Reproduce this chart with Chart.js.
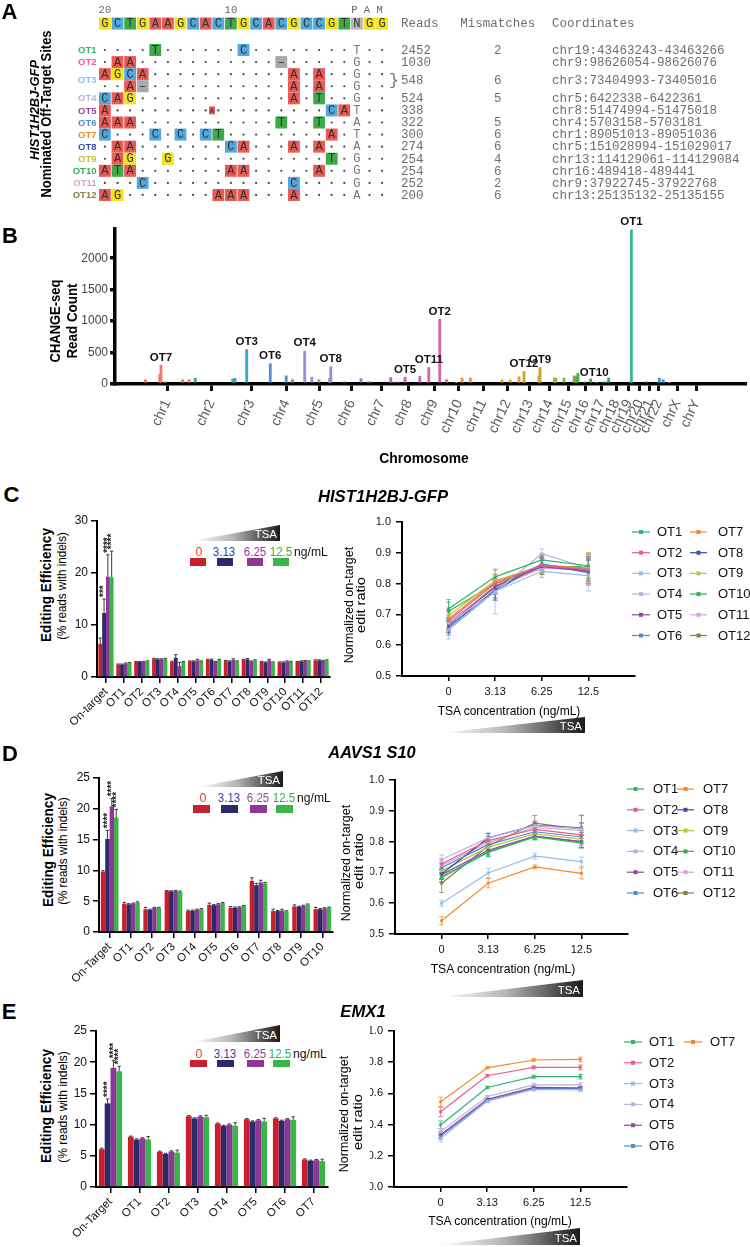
<!DOCTYPE html>
<html><head><meta charset="utf-8">
<script src="https://cdn.jsdelivr.net/npm/chart.js@4.4.1/dist/chart.umd.min.js"></script>
<style>
body{margin:0;background:#fff;}
#root{position:relative;width:750px;height:1247px;overflow:hidden;background:#fff;}
#root canvas{position:absolute;}
.t{position:absolute;white-space:nowrap;line-height:1;}
.box{position:absolute;}
</style></head><body><div id="root"></div>
<script>
// ================= DATA =================
// Panel A: alignment
const targetSeq = "GCTGAAGCACTGCACGCCGTNGG";
const seqMarks = ["20", "10", "P A M"];
const seqMarkPos = [0, 10, 20.8];
const alignRowLabels = ["OT1","OT2","OT3","OT3","OT4","OT5","OT6","OT7","OT8","OT9","OT10","OT11","OT12"];
const alignRowSeqs = [
  "....T......C........T..",
  ".AA...........-.....G..",
  "AGCA...........A.A..G..",
  "..A-...........A.A..G..",
  "CAG............A.T..G..",
  "A.................CAT..",
  "AAA...........T..T..A..",
  "C...C.C.CT........A.T..",
  ".AA.......CA...A.A..A..",
  ".AG..G............T.G..",
  "ATA.......AA.....A..G..",
  "...C...........C....G..",
  "AG.......AAA...A....A.."
];
const alignInsertRow = 5, alignInsertPos = 8.5, alignInsertBase = "A";
const otNames = ["OT1","OT2","OT3","OT4","OT5","OT6","OT7","OT8","OT9","OT10","OT11","OT12"];
const otReads = [2452,1030,548,524,338,322,300,274,254,254,252,200];
const otMismatches = ["2","","6","5","","5","6","6","4","6","2","6"];
const otCoords = ["chr19:43463243-43463266","chr9:98626054-98626076","chr3:73404993-73405016","chr5:6422338-6422361","chr8:51474994-51475018","chr4:5703158-5703181","chr1:89051013-89051036","chr5:151028994-151029017","chr13:114129061-114129084","chr16:489418-489441","chr9:37922745-37922768","chr13:25135132-25135155"];
const otColors = ["#2fb36b","#ee5b8a","#93bde8","#b9b1e0","#8c4a9e","#4f8dd0","#f28a2c","#3d4ea8","#bfc23a","#34b14f","#d8a2d6","#8d7b3c"];

// Panel B: CHANGE-seq
const chrNames = ["chr1","chr2","chr3","chr4","chr5","chr6","chr7","chr8","chr9","chr10","chr11","chr12","chr13","chr14","chr15","chr16","chr17","chr18","chr19","chr20","chr21","chr22","chrX","chrY"];
const chrLenMb = [248.956,242.193,198.295,190.214,181.538,170.805,159.345,145.138,138.394,133.797,135.086,133.275,114.364,107.043,101.991,90.338,83.257,80.373,58.617,64.444,46.709,50.818,156.040,57.227];
const chrColors = ["#f47a6a","#2ea89a","#3d9fdb","#5a8fd2","#9a8ed2","#a878c4","#b86cc0","#c765b3","#d966a0","#f28c3c","#f29a34","#e3a12e","#c9a82c","#a3ae3a","#72b443","#45b04a","#2fb35e","#2db47e","#34b893","#2eb3b8","#2fa8d6","#3a9fe2","#f38b86","#e77aa5"];
const siteChr  = [0,0,0,0,0,0,1,1,2,2,3,3,3,4,4,4,4,4,5,5,6,6,6,6,7,7,7,8,8,8,9,9,9,11,11,11,12,12,12,12,13,13,14,14,14,15,15,15,16,16,16,16,18,18,20,21,21,22];
const sitePos  = [3,82,89.05,112,209,245,30,238,8,73.4,5.7,94,129,6.42,46,86,145,151.03,44,137,6,18,131,151,15,51.47,133,37.92,98.63,136,52,84,130,36,82,131,25.14,30,108,114.13,80,87,26,82,93,0.49,38,71,15,50,63,81,39,43.46,4,29,50,32];
const siteReads= [68,150,300,36,68,68,92,78,92,548,322,130,68,524,110,68,90,274,36,85,36,36,105,32,32,108,120,262,1030,68,26,95,95,68,68,115,200,32,130,262,95,95,95,130,120,170,32,80,26,32,32,95,32,2452,36,95,69,26];
const labelSite = [2,9,10,13,17,25,27,28,36,39,45,53];
const labelText = ["OT7","OT3","OT6","OT4","OT8","OT5","OT11","OT2","OT12","OT9","OT10","OT1"];
const bYTicks = [0,500,1000,1500,2000];

// Bar panels
const concLabels = ["0","3.13","6.25","12.5"];
const concColors = ["#c8202f","#2b2a6b","#8e3797","#3ab54a"];
const concTextColors = ["#ee4430","#3a3aa2","#95439e","#2fb24a"];

const cCats = ["On-target","OT1","OT2","OT3","OT4","OT5","OT6","OT7","OT8","OT9","OT10","OT11","OT12"];
const cBar0 = [6.4,2.4,2.9,3.5,2.9,3.0,3.3,3.1,3.3,2.9,2.8,2.9,3.2];
const cBar1 = [12.3,2.4,2.9,3.4,3.7,3.0,3.3,3.0,3.4,2.8,2.8,3.0,3.2];
const cBar2 = [19.3,2.6,2.9,3.4,2.1,3.2,2.9,3.3,3.0,3.2,3.0,3.1,3.1];
const cBar3 = [19.2,2.7,3.0,3.5,2.9,3.0,3.3,3.0,3.2,2.8,2.9,3.0,3.2];
const cErr0 = [1.1,0.1,0.1,0.1,0.15,0.1,0.1,0.1,0.1,0.1,0.1,0.1,0.1];
const cErr1 = [2.7,0.1,0.1,0.1,0.6,0.1,0.15,0.1,0.15,0.1,0.1,0.1,0.1];
const cErr2 = [4.2,0.1,0.1,0.1,0.7,0.2,0.1,0.2,0.1,0.2,0.1,0.1,0.1];
const cErr3 = [5.0,0.1,0.1,0.1,0.1,0.1,0.1,0.1,0.1,0.1,0.1,0.1,0.1];
const cStars = ["", "***", "****", "****"];

const dCats = ["On-Target","OT1","OT2","OT3","OT4","OT5","OT6","OT7","OT8","OT9","OT10"];
const dBar0 = [9.8,4.6,3.7,6.65,3.4,4.4,3.95,8.3,3.4,4.15,3.7];
const dBar1 = [15.1,4.5,3.6,6.6,3.45,4.35,3.95,7.6,3.4,4.1,3.7];
const dBar2 = [20.4,4.6,3.9,6.65,3.6,4.5,4.0,8.05,3.5,4.25,3.85];
const dBar3 = [18.6,4.8,3.9,6.55,3.7,4.7,4.2,7.9,3.35,4.45,3.95];
const dErr0 = [0.15,0.2,0.3,0.1,0.15,0.3,0.2,0.5,0.3,0.25,0.3];
const dErr1 = [1.4,0.1,0.1,0.1,0.1,0.1,0.1,0.3,0.1,0.1,0.1];
const dErr2 = [1.3,0.1,0.1,0.1,0.1,0.1,0.1,0.35,0.2,0.1,0.1];
const dErr3 = [1.3,0.1,0.1,0.1,0.1,0.1,0.1,0.15,0.1,0.1,0.1];
const dStars = ["", "****", "****", "****"];

const eCats = ["On-Target","OT1","OT2","OT3","OT4","OT5","OT6","OT7"];
const eBar0 = [6.07,8.06,5.65,11.34,10.16,10.86,11.0,4.4];
const eBar1 = [13.4,7.6,5.3,11.0,9.8,10.5,10.6,4.2];
const eBar2 = [19.1,7.8,5.7,11.3,10.0,10.7,10.86,4.3];
const eBar3 = [18.55,7.6,5.5,11.2,9.8,10.5,10.75,4.15];
const eErr0 = [0.15,0.1,0.1,0.1,0.1,0.1,0.1,0.1];
const eErr1 = [0.7,0.1,0.1,0.1,0.1,0.1,0.1,0.1];
const eErr2 = [1.2,0.1,0.1,0.1,0.1,0.1,0.1,0.1];
const eErr3 = [0.8,0.5,0.4,0.3,0.5,0.5,0.5,0.3];
const eStars = ["", "****", "****", "****"];

// Line panels (normalized on-target edit ratio at 0, 3.13, 6.25, 12.5 ng/mL)
const cLine = [
  [0.718,0.822,0.877,0.858],[0.680,0.800,0.860,0.845],[0.650,0.775,0.840,0.826],[0.672,0.772,0.897,0.850],
  [0.666,0.790,0.855,0.840],[0.653,0.775,0.865,0.835],[0.686,0.806,0.860,0.850],[0.660,0.780,0.862,0.840],
  [0.696,0.810,0.856,0.850],[0.710,0.800,0.855,0.855],[0.676,0.786,0.850,0.845],[0.670,0.792,0.860,0.848]];
const cLineErr = [
  [0.03,0.025,0.02,0.04],[0.03,0.03,0.03,0.04],[0.03,0.02,0.02,0.05],[0.03,0.07,0.015,0.04],
  [0.02,0.025,0.02,0.04],[0.02,0.03,0.02,0.04],[0.03,0.025,0.03,0.05],[0.02,0.03,0.02,0.04],
  [0.02,0.02,0.02,0.05],[0.03,0.02,0.02,0.04],[0.02,0.02,0.03,0.05],[0.02,0.02,0.03,0.04]];
const dLine = [
  [0.685,0.765,0.815,0.795],[0.728,0.803,0.840,0.822],[0.600,0.698,0.753,0.735],[0.742,0.812,0.852,0.842],
  [0.692,0.772,0.818,0.800],[0.715,0.790,0.832,0.815],[0.543,0.665,0.718,0.697],[0.695,0.812,0.853,0.845],
  [0.705,0.782,0.825,0.808],[0.683,0.768,0.817,0.800],[0.722,0.796,0.846,0.836],[0.665,0.786,0.860,0.840]];
const dLineErr = [
  [0.015,0.015,0.01,0.015],[0.015,0.015,0.015,0.02],[0.01,0.015,0.01,0.015],[0.015,0.015,0.015,0.02],
  [0.015,0.015,0.01,0.02],[0.015,0.015,0.015,0.02],[0.013,0.015,0.006,0.018],[0.015,0.015,0.01,0.015],
  [0.015,0.015,0.015,0.02],[0.015,0.015,0.01,0.02],[0.015,0.015,0.02,0.05],[0.03,0.015,0.025,0.045]];
const eLine = [
  [0.398,0.638,0.707,0.707],[0.482,0.713,0.767,0.767],[0.310,0.550,0.625,0.622],[0.355,0.580,0.655,0.655],
  [0.335,0.562,0.638,0.635],[0.325,0.553,0.632,0.630],[0.546,0.764,0.814,0.818]];
const eLineErr = [
  [0.025,0.008,0.01,0.015],[0.03,0.008,0.01,0.015],[0.02,0.008,0.01,0.01],[0.02,0.008,0.01,0.015],
  [0.02,0.008,0.01,0.01],[0.02,0.008,0.01,0.01],[0.03,0.006,0.008,0.015]];
const cLineTicks = [0.5,0.6,0.7,0.8,0.9,1.0];
const eLineTicks = [0.0,0.2,0.4,0.6,0.8,1.0];

// ================= HELPERS =================
const FF = '"Liberation Sans", Arial, sans-serif';
const NARROW = '"Liberation Sans Narrow", "Liberation Sans", Arial, sans-serif';
const MONO = '"Liberation Mono", "DejaVu Sans Mono", monospace';
Chart.defaults.font.family = FF;
Chart.defaults.color = '#111';
const root = document.getElementById('root');

function addText(txt, cx, cy, o) {
  o = o || {};
  const d = document.createElement('div');
  d.className = 't';
  d.textContent = txt;
  d.style.font = o.font || ('12px ' + FF);
  d.style.color = o.color || '#000';
  d.style.left = cx + 'px'; d.style.top = cy + 'px';
  root.appendChild(d);
  let k = 1;
  if (o.w) k = o.w / d.offsetWidth;
  if (o.left) {
    d.style.transformOrigin = '0 50%';
    d.style.transform = 'translate(0,-50%) scale(' + k + ',1)';
  } else {
    d.style.transform = 'translate(-50%,-50%) rotate(' + (o.rot || 0) + 'deg) scale(' + k + ',1)';
  }
  return d;
}
function addBox(x, y, w, h, color) {
  const b = document.createElement('div');
  b.className = 'box';
  Object.assign(b.style, {left: x + 'px', top: y + 'px', width: w + 'px', height: h + 'px', background: color});
  root.appendChild(b);
}
function addTri(x0, y0, x1, y1) {
  const b = document.createElement('div');
  b.className = 'box';
  Object.assign(b.style, {left: x0 + 'px', top: y0 + 'px', width: (x1 - x0) + 'px', height: (y1 - y0) + 'px',
    background: 'linear-gradient(90deg, #ffffff 0%, #b8b8b8 45%, #1a1a1a 100%)',
    clipPath: 'polygon(0 100%, 100% 0, 100% 100%)'});
  root.appendChild(b);
  const t = document.createElement('div');
  t.className = 't'; t.textContent = 'TSA';
  Object.assign(t.style, {font: '11.5px ' + FF, color: '#fff', right: (750 - x1 + 3) + 'px', top: (y1 - 13) + 'px'});
  root.appendChild(t);
}
function concLegend(ly, centers, ngx, by, bh, bxs, bw) {
  concLabels.forEach((l, i) => addText(l, centers[i], ly, {font: '12.5px ' + FF, color: concTextColors[i], w: l.length > 1 ? 22 : 7}));
  addText('ng/mL', ngx, ly, {font: '12.5px ' + FF, color: '#111', left: true, w: 34});
  bxs.forEach((x, i) => addBox(x, by, bw, bh, concColors[i]));
}

function makeChart(r, area, cfg) {
  const c = document.createElement('canvas');
  c.width = r.w; c.height = r.h;
  c.style.left = r.x + 'px'; c.style.top = r.y + 'px';
  c.style.width = r.w + 'px'; c.style.height = r.h + 'px';
  root.appendChild(c);
  const o = cfg.options;
  o.responsive = false; o.animation = false; o.maintainAspectRatio = false;
  o.devicePixelRatio = 1;
  o.layout = {padding: {left: 0, top: area.y0 - r.y, right: r.x + r.w - area.x1, bottom: 0}};
  o.scales.x.afterFit = s => { s.height = r.y + r.h - area.y1; };
  o.scales.y.afterFit = s => { s.width = area.x0 - r.x; };
  o.plugins = Object.assign({legend: {display: false}, tooltip: {enabled: false}, title: {display: false}}, o.plugins || {});
  return new Chart(c, cfg);
}

// ============ plugins ============
const barErrPlugin = {
  id: 'barErr',
  afterDatasetsDraw(chart) {
    const ctx = chart.ctx, ys = chart.scales.y;
    chart.data.datasets.forEach((ds, i) => {
      const meta = chart.getDatasetMeta(i);
      meta.data.forEach((el, j) => {
        const yt = ys.getPixelForValue(ds.data[j] + ds.err[j]);
        ctx.save();
        ctx.strokeStyle = '#3a3a3a'; ctx.lineWidth = 1;
        ctx.beginPath();
        ctx.moveTo(el.x, el.y); ctx.lineTo(el.x, yt);
        ctx.moveTo(el.x - 1.7, yt); ctx.lineTo(el.x + 1.7, yt);
        ctx.stroke();
        if (ds.stars && j === 0 && ds.stars.length) {
          ctx.translate(el.x + 0.5, yt - 2);
          ctx.rotate(-Math.PI / 2);
          ctx.font = 'bold 10px ' + FF; ctx.fillStyle = '#222';
          ctx.textAlign = 'left'; ctx.textBaseline = 'middle';
          ctx.fillText(ds.stars, 0, 0);
        }
        ctx.restore();
      });
    });
  }
};
const lineErrPlugin = {
  id: 'lineErr',
  beforeDatasetsDraw(chart) {
    const ctx = chart.ctx, ys = chart.scales.y;
    chart.data.datasets.forEach((ds, i) => {
      const meta = chart.getDatasetMeta(i);
      ctx.save();
      ctx.strokeStyle = ds.borderColor; ctx.globalAlpha = 0.75; ctx.lineWidth = 1;
      meta.data.forEach((el, j) => {
        const v = ds.data[j].y, e = ds.err[j];
        const a = ys.getPixelForValue(v + e), b = ys.getPixelForValue(v - e);
        ctx.beginPath();
        ctx.moveTo(el.x, a); ctx.lineTo(el.x, b);
        ctx.moveTo(el.x - 2.5, a); ctx.lineTo(el.x + 2.5, a);
        ctx.moveTo(el.x - 2.5, b); ctx.lineTo(el.x + 2.5, b);
        ctx.stroke();
      });
      ctx.restore();
    });
  }
};
const otLegendPlugin = {
  id: 'otLegend',
  afterDraw(chart, args, opts) {
    if (!opts || !opts.cols) return;
    const ctx = chart.ctx;
    const ox = opts.ox, oy = opts.oy;
    ctx.save();
    ctx.font = '13px ' + FF; ctx.textBaseline = 'middle'; ctx.textAlign = 'left'; ctx.fillStyle = '#111';
    chart.data.datasets.forEach((ds, i) => {
      const col = Math.floor(i / 6), row = i % 6;
      const c = opts.cols[col];
      const y = opts.y0 + row * opts.dy - oy;
      const x0 = c[0] - ox, x1 = c[1] - ox;
      ctx.strokeStyle = ds.borderColor; ctx.lineWidth = 1.2;
      ctx.beginPath(); ctx.moveTo(x0, y); ctx.lineTo(x1, y); ctx.stroke();
      ctx.fillStyle = ds.borderColor;
      ctx.fillRect((x0 + x1) / 2 - 2, y - 2, 4, 4);
      ctx.fillStyle = '#111';
      ctx.fillText(ds.label, c[2] - ox, y + 0.5);
    });
    ctx.restore();
  }
};

// ============ PANEL A ============
(function () {
  const c = document.createElement('canvas');
  c.width = 750; c.height = 205;
  c.style.left = '0px'; c.style.top = '0px';
  root.appendChild(c);
  const baseColors = {A: '#ea5b55', C: '#52a8dd', G: '#f3e31c', T: '#3fa84a', N: '#b7b7b7', '-': '#a9a9a9'};
  const headRow = -2.19, numRow = -3.31;
  const alignPlugin = {
    id: 'align',
    afterDraw(chart) {
      const ctx = chart.ctx, xs = chart.scales.x, ys = chart.scales.y;
      const X = v => xs.getPixelForValue(v), Y = v => ys.getPixelForValue(v);
      const cw = X(1) - X(0), ch = 12;
      ctx.save();
      ctx.textAlign = 'center'; ctx.textBaseline = 'middle';
      ctx.font = '10.5px ' + MONO; ctx.fillStyle = '#666';
      seqMarks.forEach((m, i) => ctx.fillText(m, X(seqMarkPos[i]), Y(numRow)));
      function cell(b, i, r) {
        ctx.fillStyle = baseColors[b];
        ctx.fillRect(X(i) - cw / 2 + 0.4, Y(r) - ch / 2, cw - 0.8, ch);
        ctx.fillStyle = '#333'; ctx.font = '12px ' + MONO;
        ctx.fillText(b === '-' ? '\u2013' : b, X(i), Y(r) + 0.5);
      }
      for (let i = 0; i < targetSeq.length; i++) cell(targetSeq[i], i, headRow);
      alignRowSeqs.forEach((s, r) => {
        for (let i = 0; i < s.length; i++) {
          const b = s[i];
          if (b === '.') {
            ctx.fillStyle = '#444';
            ctx.beginPath(); ctx.arc(X(i), Y(r), 1.1, 0, Math.PI * 2); ctx.fill();
          } else if (i === 20) {
            ctx.fillStyle = '#777'; ctx.font = '12px ' + MONO;
            ctx.fillText(b, X(i), Y(r) + 0.5);
          } else cell(b, i, r);
        }
      });
      ctx.fillStyle = baseColors[alignInsertBase];
      ctx.fillRect(X(alignInsertPos) - 3, Y(alignInsertRow) - 4, 6, 8);
      ctx.fillStyle = '#333'; ctx.font = '7px ' + MONO;
      ctx.fillText(alignInsertBase, X(alignInsertPos), Y(alignInsertRow) + 0.5);
      const rowOf = name => {
        const idx = []; alignRowLabels.forEach((l, k) => { if (l === name) idx.push(k); });
        return idx.reduce((a, b) => a + b, 0) / idx.length;
      };
      ctx.font = '12.5px ' + MONO; ctx.fillStyle = '#6e6e6e';
      ctx.textAlign = 'left'; ctx.fillText('Reads', X(23.5), Y(headRow));
      ctx.textAlign = 'center'; ctx.fillText('Mismatches', X(31.17), Y(headRow));
      ctx.textAlign = 'left'; ctx.fillText('Coordinates', X(35.48), Y(headRow));
      otNames.forEach((n, k) => {
        const r = rowOf(n);
        ctx.font = 'bold 9.5px ' + NARROW; ctx.fillStyle = otColors[k]; ctx.textAlign = 'right';
        ctx.fillText(n, X(-0.667), Y(r) + 0.5);
        ctx.font = '12.5px ' + MONO; ctx.fillStyle = '#6e6e6e';
        ctx.textAlign = 'left'; ctx.fillText(String(otReads[k]), X(23.5), Y(r) + 0.5);
        ctx.textAlign = 'center'; ctx.fillText(otMismatches[k], X(31.17), Y(r) + 0.5);
        ctx.textAlign = 'left'; ctx.fillText(otCoords[k], X(35.48), Y(r) + 0.5);
      });
      ctx.font = '17px ' + MONO; ctx.fillStyle = '#777'; ctx.textAlign = 'center';
      ctx.fillText('}', X(22.93), Y(rowOf('OT3')) + 0.5);
      ctx.restore();
    }
  };
  new Chart(c, {
    type: 'scatter', data: {datasets: []},
    options: {responsive: false, animation: false, devicePixelRatio: 1,
      layout: {padding: 0},
      plugins: {legend: {display: false}, tooltip: {enabled: false}},
      scales: {x: {type: 'linear', display: false, min: -8.325, max: 51.198},
               y: {type: 'linear', display: false, min: -4.139, max: 12.83, reverse: true}}},
    plugins: [alignPlugin]
  });
})();
addText('A', 9.5, 12, {font: 'bold 22px ' + FF});
addText('HIST1H2BJ-GFP', 34, 110, {font: 'italic bold 13px ' + FF, rot: -90, w: 100});
addText('Nominated Off-Target Sites', 46, 114, {font: 'bold 14px ' + FF, rot: -90, w: 167});

// ============ PANEL B ============
(function () {
  const chrStart = [];
  let acc = 0;
  chrLenMb.forEach(l => { chrStart.push(acc); acc += l; });
  const chrMid = chrLenMb.map((l, i) => chrStart[i] + l / 2);
  const pts = siteChr.map((c, i) => ({x: chrStart[c] + sitePos[i], y: siteReads[i]}));
  const labPlugin = {
    id: 'bLab',
    afterDatasetsDraw(chart) {
      const ctx = chart.ctx, meta = chart.getDatasetMeta(0);
      ctx.save();
      ctx.font = 'bold 11.5px ' + NARROW; ctx.fillStyle = '#111'; ctx.textBaseline = 'bottom';
      labelSite.forEach((s, k) => {
        const el = meta.data[s];
        if (labelText[k] === 'OT10') { ctx.textAlign = 'left'; ctx.fillText(labelText[k], el.x + 2, el.y + 5); }
        else { ctx.textAlign = 'center'; ctx.fillText(labelText[k], el.x, el.y - 2); }
      });
      ctx.restore();
    }
  };
  makeChart({x: 0, y: 205, w: 750, h: 265}, {x0: 115, x1: 745, y0: 229, y1: 384}, {
    type: 'bar',
    data: {datasets: [{data: pts, backgroundColor: siteChr.map(c => chrColors[c]), barThickness: 2.2, borderWidth: 0}]},
    options: {
      scales: {
        x: {type: 'linear', min: -166, max: 3328, offset: false,
            afterBuildTicks: s => { s.ticks = chrMid.map(v => ({value: v})); },
            ticks: {autoSkip: false, minRotation: 65, maxRotation: 65, color: '#5a5a5a', font: {size: 14, family: FF}, padding: 6,
                    callback: (v, i) => chrNames[i]},
            grid: {display: true, drawOnChartArea: false, drawTicks: true, tickLength: 7, color: '#111', lineWidth: 3, offset: false},
            border: {display: true, color: '#000', width: 3.5}},
        y: {type: 'linear', min: 0, max: 2465,
            afterBuildTicks: s => { s.ticks = bYTicks.map(v => ({value: v})); },
            ticks: {color: '#444', font: {size: 12, family: FF}, padding: 2, callback: v => String(v)},
            grid: {display: true, drawOnChartArea: false, drawTicks: true, tickLength: 5, color: '#111', lineWidth: 3.5},
            border: {display: true, color: '#000', width: 3.5}}
      }
    },
    plugins: [labPlugin]
  });
})();
addText('B', 10, 236, {font: 'bold 22px ' + FF});
addText('CHANGE-seq', 54, 321, {font: 'bold 15px ' + FF, rot: -90, w: 83});
addText('Read Count', 71, 321, {font: 'bold 15px ' + FF, rot: -90, w: 75});
addText('Chromosome', 424, 458, {font: 'bold 14.5px ' + FF, w: 89});

// ============ BAR & LINE PANELS ============
function barChart(rect, area, cats, vals, errs, stars, yMax, yStep, catPct) {
  const datasets = vals.map((v, i) => ({data: v, err: errs[i], stars: stars[i], backgroundColor: concColors[i],
    borderWidth: 0, categoryPercentage: catPct, barPercentage: 1}));
  return makeChart(rect, area, {
    type: 'bar', data: {labels: cats, datasets},
    options: {
      scales: {
        x: {grid: {display: true, offset: false, drawOnChartArea: false, drawTicks: true, tickLength: 6, color: '#000', lineWidth: 1.5},
            border: {display: true, color: '#000', width: 2},
            ticks: {autoSkip: false, maxRotation: 45, minRotation: 45, color: '#111', font: {size: 11.5, family: FF}, padding: 2}},
        y: {min: 0, max: yMax, ticks: {stepSize: yStep, color: '#111', font: {size: 12, family: FF}, padding: 3},
            grid: {display: true, drawOnChartArea: false, drawTicks: true, tickLength: 6, color: '#000', lineWidth: 1.5},
            border: {display: true, color: '#000', width: 2}}
      }
    },
    plugins: [barErrPlugin]
  });
}
function lineChart(rect, area, series, errs, yMin, yMax, yTicks, legend) {
  const datasets = series.map((s, i) => ({label: otNames[i], data: s.map((v, j) => ({x: j, y: v})), err: errs[i],
    borderColor: otColors[i], backgroundColor: otColors[i], borderWidth: 1.2, pointStyle: 'rect', pointRadius: 2,
    pointBorderWidth: 0, tension: 0, fill: false}));
  legend.ox = rect.x; legend.oy = rect.y;
  return makeChart(rect, area, {
    type: 'line', data: {datasets},
    options: {
      plugins: {otLegend: legend},
      scales: {
        x: {type: 'linear', min: -1, max: 4,
            afterBuildTicks: s => { s.ticks = concLabels.map((l, j) => ({value: j})); },
            ticks: {callback: v => concLabels[v], color: '#111', font: {size: 11, family: FF}, padding: 4},
            grid: {display: true, drawOnChartArea: false, drawTicks: true, tickLength: 5, color: '#000', lineWidth: 1.5},
            border: {display: true, color: '#000', width: 2}},
        y: {type: 'linear', min: yMin, max: yMax,
            afterBuildTicks: s => { s.ticks = yTicks.map(v => ({value: v})); },
            ticks: {callback: v => v.toFixed(1), color: '#111', font: {size: 11, family: FF}, padding: 5},
            grid: {display: true, drawOnChartArea: false, drawTicks: true, tickLength: 6, color: '#000', lineWidth: 1.5},
            border: {display: true, color: '#000', width: 2}}
      }
    },
    plugins: [lineErrPlugin, otLegendPlugin]
  });
}

// ---- C ----
addText('C', 11.5, 495, {font: 'bold 22px ' + FF});
addText('HIST1H2BJ-GFP', 383, 497, {font: 'italic bold 17px ' + FF, w: 130});
addText('Editing Efficiency', 45, 585, {font: 'bold 15px ' + FF, rot: -90, w: 114});
addText('(% reads with indels)', 61, 586, {font: '13px ' + FF, rot: -90, w: 108});
addTri(192, 525, 280, 541);
concLegend(552, [199, 224, 255, 281], 294, 558, 8, [190, 217, 247, 273], 16);
barChart({x: 0, y: 505, w: 370, h: 245}, {x0: 97, x1: 330, y0: 521, y1: 677}, cCats,
  [cBar0, cBar1, cBar2, cBar3], [cErr0, cErr1, cErr2, cErr3], cStars, 30, 10, 0.85);
addText('Normalized on-target', 348, 605, {font: '13px ' + FF, rot: -90, w: 116});
addText('edit ratio', 360, 605, {font: '13px ' + FF, rot: -90, w: 56});
lineChart({x: 370, y: 505, w: 380, h: 200}, {x0: 402, x1: 635, y0: 522, y1: 676}, cLine, cLineErr, 0.5, 1.0, cLineTicks,
  {cols: [[632, 650, 657], [690, 707, 718]], y0: 532, dy: 20.7});
addText('TSA concentration (ng/mL)', 508.5, 710, {font: '13px ' + FF, w: 143});
addTri(440, 717, 585, 733);

// ---- D ----
addText('D', 10, 754, {font: 'bold 22px ' + FF});
addText('AAVS1 S10', 371.5, 753, {font: 'italic bold 17px ' + FF, w: 87});
addText('Editing Efficiency', 46.5, 850, {font: 'bold 15px ' + FF, rot: -90, w: 114});
addText('(% reads with indels)', 62, 851, {font: '13px ' + FF, rot: -90, w: 108});
addTri(197, 771, 283, 787);
concLegend(798, [203, 229, 258, 284], 297, 805, 8, [193, 221, 250, 276], 17);
barChart({x: 0, y: 760, w: 370, h: 235}, {x0: 99, x1: 333, y0: 778, y1: 932}, dCats,
  [dBar0, dBar1, dBar2, dBar3], [dErr0, dErr1, dErr2, dErr3], dStars, 25, 5, 0.83);
addText('Normalized on-target', 345, 863, {font: '13px ' + FF, rot: -90, w: 116});
addText('edit ratio', 358, 861, {font: '13px ' + FF, rot: -90, w: 56});
lineChart({x: 370, y: 765, w: 380, h: 195}, {x0: 395, x1: 628, y0: 780, y1: 934}, dLine, dLineErr, 0.5, 1.0, cLineTicks,
  {cols: [[627, 644, 653], [677, 694, 703]], y0: 789, dy: 20.8});
addText('TSA concentration (ng/mL)', 502.5, 968, {font: '13px ' + FF, w: 145});
addTri(440, 980, 583, 997);

// ---- E ----
addText('E', 9, 1012, {font: 'bold 22px ' + FF});
addText('EMX1', 362.5, 1012, {font: 'italic bold 17px ' + FF, w: 45});
addText('Editing Efficiency', 45, 1106, {font: 'bold 15px ' + FF, rot: -90, w: 114});
addText('(% reads with indels)', 62, 1107, {font: '13px ' + FF, rot: -90, w: 112});
addTri(192, 1025, 280, 1042);
concLegend(1054, [199, 224.5, 254.5, 280], 293, 1060, 7, [190, 217, 247, 273], 17);
barChart({x: 0, y: 1015, w: 370, h: 232}, {x0: 96, x1: 328, y0: 1031, y1: 1187}, eCats,
  [eBar0, eBar1, eBar2, eBar3], [eErr0, eErr1, eErr2, eErr3], eStars, 25, 5, 0.8);
addText('Normalized on-target', 343, 1114, {font: '13px ' + FF, rot: -90, w: 116});
addText('edit ratio', 357, 1122, {font: '13px ' + FF, rot: -90, w: 56});
lineChart({x: 370, y: 1015, w: 380, h: 200}, {x0: 394, x1: 627, y0: 1031, y1: 1187}, eLine, eLineErr, 0.0, 1.0, eLineTicks,
  {cols: [[624, 642, 649], [684, 702, 710]], y0: 1042, dy: 20.8});
addText('TSA concentration (ng/mL)', 500, 1220, {font: '13px ' + FF, w: 144});
addTri(437, 1228, 580, 1245);
</script></body></html>
